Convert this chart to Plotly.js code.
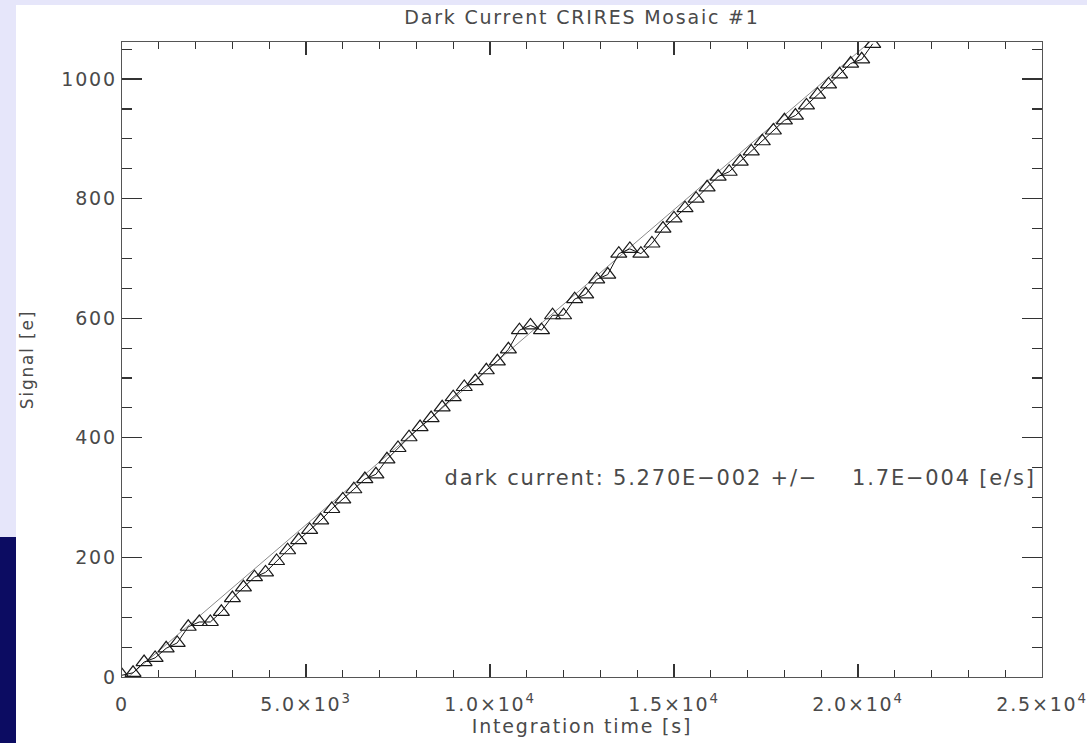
<!DOCTYPE html>
<html>
<head>
<meta charset="utf-8">
<script src="https://cdn.plot.ly/plotly-3.0.1.min.js"></script>
<style>
  html, body { margin:0; padding:0; background:#E6E6FA; width:1087px; height:743px; overflow:hidden; }
  #plot { position:absolute; left:16px; top:5px; width:1071px; height:738px; background:#ffffff; }
  #strip { position:absolute; left:0; top:537px; width:16px; height:206px; background:#0c0c62; }
  #plot text { letter-spacing:1.8px; }
</style>
</head>
<body>
<div id="strip"></div>
<div id="plot"></div>
<script>
// Integration time [s]
const timeS = [0,300,600,900,1200,1500,1800,2100,2400,2700,
  3000,3300,3600,3900,4200,4500,4800,5100,5400,5700,
  6000,6300,6600,6900,7200,7500,7800,8100,8400,8700,
  9000,9300,9600,9900,10200,10500,10800,11100,11400,11700,
  12000,12300,12600,12900,13200,13500,13800,14100,14400,14700,
  15000,15300,15600,15900,16200,16500,16800,17100,17400,17700,
  18000,18300,18600,18900,19200,19500,19800,20100,20400];
// Signal [e]
const signalE = [3,7,25,32,48,57,84,92,92,109,
  132,150,167,175,194,212,229,246,262,281,
  297,314,331,339,364,383,401,418,433,451,
  468,485,495,513,528,548,580,588,580,605,
  605,632,640,665,673,708,716,708,725,750,
  767,784,800,819,837,845,862,879,896,914,
  931,939,956,974,991,1008,1026,1033,1059];
// linear fit end points
const fitX = [0, 20700];
const fitY = [-9, 1082];

const xTickVals = [0,5000,10000,15000,20000,25000];
const xTickText = ['0','5.0×10<sup>3</sup>','1.0×10<sup>4</sup>','1.5×10<sup>4</sup>','2.0×10<sup>4</sup>','2.5×10<sup>4</sup>'];
const yTickVals = [0,200,400,600,800,1000];
const yTickText = ['0','200','400','600','800','1000'];

const titleText = 'Dark Current CRIRES Mosaic #1';
const xTitle = 'Integration time [s]';
const yTitle = 'Signal [e]';
const noteText = 'dark current: 5.270E\u2212002 +/\u2212\u00a0\u00a0\u00a0\u00a01.7E\u2212004 [e/s]';

const FONT = 'DejaVu Sans, Verdana, sans-serif';
const TXT = '#4a4a4a';

const traces = [
  { x: fitX, y: fitY, mode: 'lines', line: {color:'#8a8a8a', width:1}, hoverinfo:'skip', showlegend:false },
  { x: timeS, y: signalE, mode: 'lines+markers',
    line: {color:'#111111', width:1},
    marker: {symbol:'triangle-up-open', size:14, color:'#1a1a1a', line:{color:'#1a1a1a', width:1.2}},
    showlegend:false }
];

const axisCommon = {
  showline: true, linecolor: '#555555', linewidth: 1.3,
  mirror: 'ticks', ticks: 'inside', tickcolor: '#333333', tickwidth: 1.2,
  showgrid: false, zeroline: false,
  tickfont: {family: FONT, size: 19, color: TXT}
};

const layout = {
  width: 1071, height: 738,
  margin: {l:106, r:45, t:37, b:66},
  paper_bgcolor: '#ffffff', plot_bgcolor: '#ffffff',
  font: {family: FONT, size: 19, color: TXT},
  title: {text: titleText, x: 0.5, xref: 'paper', y: 1 - 12/738, yref: 'container', yanchor: 'middle',
          font: {family: FONT, size: 19, color: TXT}},
  xaxis: Object.assign({}, axisCommon, {
    range: [0, 25000], tickmode: 'array', tickvals: xTickVals, ticktext: xTickText,
    ticklen: 13, ticklabelstandoff: 10,
    minor: {dtick: 1000, ticklen: 7, ticks: 'inside', tickcolor: '#333333', tickwidth: 1.1},
    title: {text: xTitle, standoff: 0, font: {family: FONT, size: 19, color: TXT}}
  }),
  yaxis: Object.assign({}, axisCommon, {
    range: [0, 1062], tickmode: 'array', tickvals: yTickVals, ticktext: yTickText,
    ticklen: 20, ticklabelstandoff: 0,
    minor: {dtick: 50, ticklen: 10, ticks: 'inside', tickcolor: '#333333', tickwidth: 1.1},
    title: {text: yTitle, standoff: 30, font: {family: FONT, size: 17, color: TXT}}
  }),
  annotations: [{
    x: 16780, y: 333, xref: 'x', yref: 'y', xanchor: 'center', yanchor: 'middle',
    text: noteText, showarrow: false, font: {family: FONT, size: 21, color: TXT}
  }]
};

Plotly.newPlot('plot', traces, layout, {staticPlot: true, displayModeBar: false});
</script>
</body>
</html>
